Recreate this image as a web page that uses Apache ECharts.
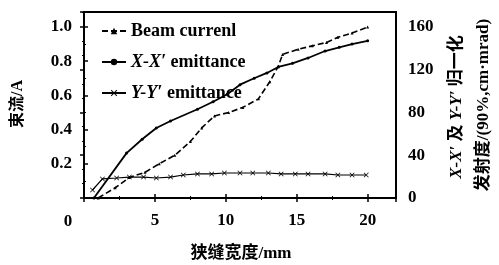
<!DOCTYPE html>
<html>
<head>
<meta charset="utf-8">
<script src="https://cdn.jsdelivr.net/npm/echarts@6/dist/echarts.min.js"></script>
<style>
  html, body { margin: 0; padding: 0; background: #fff; }
  #chart { width: 499px; height: 265px; }
</style>
</head>
<body>
<div id="chart"></div>
<script>
// beam current (left axis, A)
const beamX = [1.0, 2.2, 3.2, 4.3, 5.3, 6.4, 7.5, 8.3, 9.2, 10.2, 11.2, 12.3, 13.1, 13.7, 14.0, 15.1, 16.1, 17.1, 17.9, 18.9, 20.0]
const beamY = [0.0, 0.06, 0.12, 0.15, 0.20, 0.25, 0.33, 0.41, 0.48, 0.50, 0.53, 0.58, 0.68, 0.77, 0.84, 0.87, 0.89, 0.91, 0.94, 0.965, 1.0]
// X-X' emittance (right axis)
const xxX = [0.7, 3.0, 4.1, 5.1, 6.1, 8.0, 9.1, 10.1, 11.0, 12.0, 12.9, 13.7, 14.7, 15.8, 17.0, 18.0, 18.9, 20.0]
const xxY = [0, 42, 55, 65.5, 72, 83, 90, 97, 106, 112, 117, 122.6, 126, 131, 137.5, 141, 144, 147]
// Y-Y' emittance (right axis)
const yyX = [0.6, 1.3, 2.3, 3.2, 4.2, 5.1, 6.1, 7.0, 8.0, 9.0, 9.9, 11.0, 11.9, 13.0, 13.9, 14.9, 15.8, 17.0, 17.9, 18.9, 19.9]
const yyY = [7.5, 17.8, 18.7, 19.6, 19.6, 18.7, 19.6, 21.5, 22.5, 22.5, 23.4, 23.4, 23.4, 23.4, 22.5, 22.5, 22.5, 22.5, 21.5, 21.5, 21.5]

const seriesNames = ['Beam currenl', 'X-X′ emittance', 'Y-Y′ emittance']
const leftTicks = [0.2, 0.4, 0.6, 0.8, 1.0]
const rightTicks = [0, 40, 80, 120, 160]

const serif = '"Liberation Serif", "DejaVu Serif", serif'
const cjk = '"Liberation Serif", "Noto Sans CJK SC", sans-serif'

function pairs(xs, ys) {
  return xs.map((x, i) => [x, ys[i]])
}

const crossPath = 'path://M0,1L1,0L5,4L9,0L10,1L6,5L10,9L9,10L5,6L1,10L0,9L4,5Z'

const tickStyle = { inside: true, length: 4, lineStyle: { color: '#000', width: 1.5 } }
const minorStyle = { show: true, length: 2, lineStyle: { color: '#000', width: 1 } }

let chart = echarts.init(document.getElementById('chart'), null, { renderer: 'canvas' })
let option = {
  backgroundColor: '#fff',
  animation: false,
  grid: { left: 84, right: 103, top: 12, bottom: 67, show: true, borderColor: '#000', borderWidth: 2 },
  legend: {
    orient: 'vertical',
    left: 96, top: 17,
    itemWidth: 24, itemHeight: 8, itemGap: 13,
    data: seriesNames,
    textStyle: { fontFamily: serif, fontWeight: 'bold', fontSize: 18, color: '#000',
      rich: { i: { fontFamily: serif, fontWeight: 'bold', fontStyle: 'italic', fontSize: 18, color: '#000' } } },
    formatter: (name) => {
      if (name.indexOf('emittance') > 0) {
        let p = name.split(' ')
        return '{i|' + p[0] + '} ' + p[1]
      }
      return name
    }
  },
  xAxis: [{
    type: 'value', min: 0, max: 22, interval: 5, position: 'bottom',
    axisLine: { show: true, lineStyle: { color: '#000', width: 2 } },
    axisTick: tickStyle, minorTick: Object.assign({ splitNumber: 2 }, minorStyle),
    splitLine: { show: false },
    axisLabel: { showMinLabel: false, showMaxLabel: false, margin: 14, color: '#000',
      fontFamily: serif, fontWeight: 'bold', fontSize: 17 }
  }, {
    type: 'value', min: 0, max: 22, interval: 5, position: 'top',
    axisLine: { show: true, lineStyle: { color: '#000', width: 2 } },
    axisTick: tickStyle, minorTick: Object.assign({ splitNumber: 2 }, minorStyle),
    splitLine: { show: false }, axisLabel: { show: false }
  }],
  yAxis: [{
    type: 'value', min: 0, max: 1.088, interval: 0.2, position: 'left',
    axisLine: { show: true, lineStyle: { color: '#000', width: 2 } },
    axisTick: tickStyle, minorTick: Object.assign({ splitNumber: 2 }, minorStyle),
    splitLine: { show: false },
    axisLabel: { showMinLabel: false, showMaxLabel: false, margin: 12, color: '#000',
      fontFamily: serif, fontWeight: 'bold', fontSize: 17,
      formatter: (v) => leftTicks.indexOf(Math.round(v * 10) / 10) >= 0 ? v.toFixed(1) : '' }
  }, {
    type: 'value', min: 0, max: 174, interval: 40, position: 'right',
    axisLine: { show: true, lineStyle: { color: '#000', width: 2 } },
    axisTick: tickStyle, minorTick: Object.assign({ splitNumber: 3 }, minorStyle),
    splitLine: { show: false },
    axisLabel: { showMaxLabel: false, margin: 12, color: '#000',
      fontFamily: serif, fontWeight: 'bold', fontSize: 17,
      formatter: (v) => rightTicks.indexOf(v) >= 0 ? String(v) : '' }
  }],
  series: [{
    name: seriesNames[0], type: 'line', xAxisIndex: 0, yAxisIndex: 0,
    data: pairs(beamX, beamY),
    symbol: 'triangle', symbolSize: 3, showAllSymbol: true,
    lineStyle: { color: '#000', width: 1.6, type: [6, 3] },
    itemStyle: { color: '#000' }
  }, {
    name: seriesNames[1], type: 'line', xAxisIndex: 0, yAxisIndex: 1,
    data: pairs(xxX, xxY),
    symbol: 'circle', symbolSize: 3, showAllSymbol: true,
    lineStyle: { color: '#000', width: 1.8 },
    itemStyle: { color: '#000' }
  }, {
    name: seriesNames[2], type: 'line', xAxisIndex: 0, yAxisIndex: 1,
    data: pairs(yyX, yyY),
    symbol: crossPath, symbolSize: 5, showAllSymbol: true,
    lineStyle: { color: '#000', width: 1.2 },
    itemStyle: { color: '#000' }
  }],
  graphic: [{
    type: 'text', x: 68, y: 222,
    style: { text: '0', font: 'bold 17px ' + serif, fill: '#000', align: 'center', verticalAlign: 'middle' }
  }, {
    type: 'text', x: 18, y: 104, rotation: Math.PI / 2,
    style: { text: '束流/A', font: 'bold 16px ' + cjk, fill: '#000', align: 'center', verticalAlign: 'middle' }
  }, {
    type: 'text', x: 241, y: 254,
    style: { text: '狭缝宽度/mm', font: 'bold 17px ' + cjk, fill: '#000', align: 'center', verticalAlign: 'middle' }
  }, {
    type: 'text', x: 457, y: 107, rotation: Math.PI / 2,
    style: {
      text: '{i|X-X′} 及 {i|Y-Y′} 归一化', font: 'bold 17px ' + cjk, fill: '#000',
      align: 'center', verticalAlign: 'middle',
      rich: { i: { font: 'italic bold 17px ' + serif, fill: '#000' } }
    }
  }, {
    type: 'text', x: 484, y: 105, rotation: Math.PI / 2,
    style: { text: '发射度/(90%,cm·mrad)', font: 'bold 17px ' + cjk, fill: '#000', align: 'center', verticalAlign: 'middle' }
  }]
}
chart.setOption(option)
</script>
</body>
</html>
